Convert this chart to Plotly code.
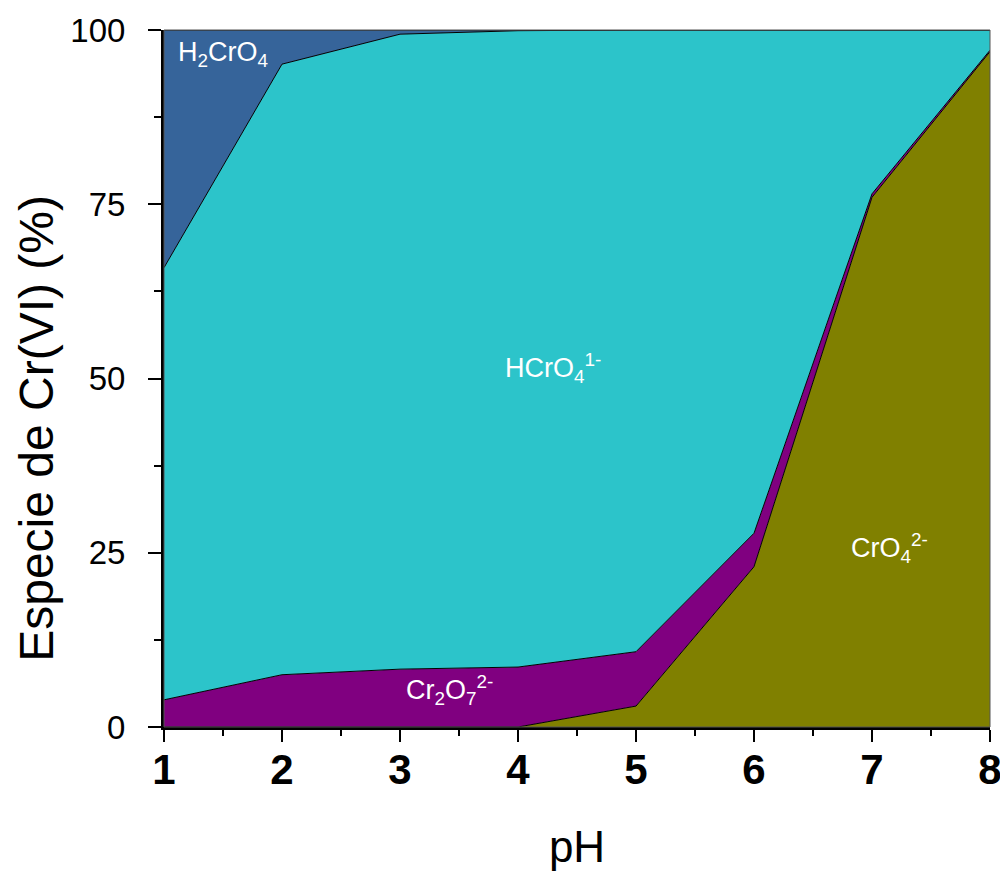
import plotly.graph_objects as go

ph = [1, 2, 3, 4, 5, 6, 7, 8]
cro4 = [0, 0, 0, 0, 3.0, 23.0, 76.0, 96.9]
cr2o7 = [3.9, 7.5, 8.3, 8.6, 7.8, 4.8, 0.5, 0.2]
hcro4 = [62.0, 87.6, 91.1, 91.3, 89.2, 72.2, 23.5, 2.9]
h2cro4 = [34.1, 4.9, 0.6, 0.1, 0.0, 0.0, 0.0, 0.0]

names = ["CrO4", "Cr2O7", "HCrO4", "H2CrO4"]
series = [cro4, cr2o7, hcro4, h2cro4]
colors = ["#808000", "#800080", "#2CC4CA", "#36649A"]

fig = go.Figure()
for n, s, c in zip(names, series, colors):
    fig.add_trace(go.Scatter(
        x=ph, y=s, name=n, mode="lines", stackgroup="one",
        line=dict(color="black", width=1), fillcolor=c,
    ))

lab_font = dict(family="Liberation Sans, Arial", size=27, color="white")
fig.add_annotation(x=1.5, y=96.5, text="H<sub>2</sub>CrO<sub>4</sub>", showarrow=False, font=lab_font)
fig.add_annotation(x=4.3, y=51.5, text="HCrO<sub>4</sub><sup>1-</sup>", showarrow=False, font=lab_font)
fig.add_annotation(x=3.42, y=5.3, text="Cr<sub>2</sub>O<sub>7</sub><sup>2-</sup>", showarrow=False, font=lab_font)
fig.add_annotation(x=7.15, y=25.7, text="CrO<sub>4</sub><sup>2-</sup>", showarrow=False, font=lab_font)

# y-axis title (positioned like the reference, slightly below centre)
fig.add_annotation(xref="paper", yref="paper", x=-0.154, y=0.429,
                   text="Especie de Cr(VI) (%)", textangle=-90, showarrow=False,
                   xanchor="center", yanchor="middle",
                   font=dict(family="Liberation Sans, Arial", size=48, color="black"))

fig.add_shape(type="rect", xref="paper", yref="paper", x0=0, y0=0, x1=1, y1=1,
              line=dict(color="#555555", width=1), layer="above")

fig.update_layout(
    width=1000, height=863,
    margin=dict(l=156, r=18, t=22, b=144, autoexpand=False),
    plot_bgcolor="white", paper_bgcolor="white",
    showlegend=False,
    xaxis=dict(
        range=[1, 8], tickvals=ph, ticktext=["<b>%d</b>" % v for v in ph],
        ticks="outside", ticklen=12, tickwidth=2, tickcolor="black",
        showline=True, linecolor="black", linewidth=3, showgrid=False, zeroline=False,
        automargin=False, ticklabelstandoff=-8,
        tickfont=dict(family="Liberation Sans Narrow, Arial Narrow, Liberation Sans", size=42, color="black"),
        minor=dict(dtick=0.5, ticklen=6, tickwidth=2, tickcolor="black", ticks="outside", showgrid=False),
        title=dict(text="pH", font=dict(family="Liberation Sans, Arial", size=44, color="black"), standoff=40),
    ),
    yaxis=dict(
        range=[0, 100], tickvals=[0, 25, 50, 75, 100],
        ticks="outside", ticklen=13, tickwidth=2, tickcolor="black",
        showline=True, linecolor="black", linewidth=3, showgrid=False, zeroline=False,
        automargin=False, ticklabelstandoff=16,
        tickfont=dict(family="Liberation Sans, Arial", size=33, color="black"),
        minor=dict(dtick=12.5, ticklen=7, tickwidth=2, tickcolor="black", ticks="outside", showgrid=False),
    ),
)

fig.write_html("out.html")
